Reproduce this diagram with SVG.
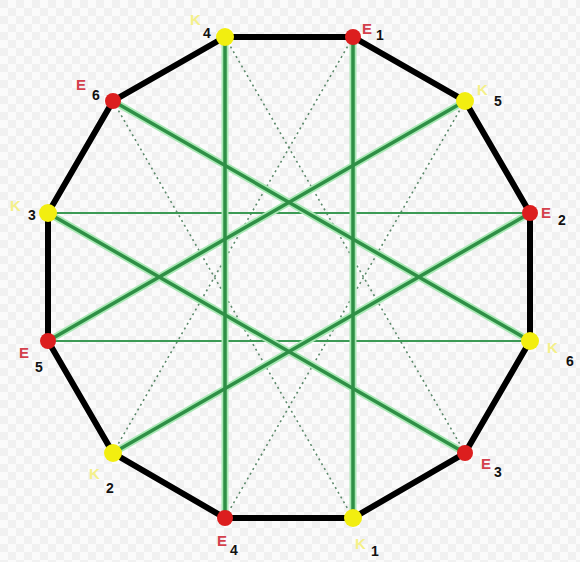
<svg xmlns="http://www.w3.org/2000/svg" width="580" height="562" viewBox="0 0 580 562">
<defs>
<pattern id="chk" width="16" height="16" patternUnits="userSpaceOnUse">
<rect width="16" height="16" fill="#fbfbfb"/>
<rect width="8" height="8" fill="#f1f1f1"/>
<rect x="8" y="8" width="8" height="8" fill="#f1f1f1"/>
</pattern>
<style>
.rim{fill:none;stroke:#000;stroke-width:6;stroke-linejoin:miter}
.halo{stroke:#a8e8b4;stroke-width:7;stroke-linecap:round}
.thick{stroke:#2f8f46;stroke-width:3.5;stroke-linecap:round}
.thin{stroke:#3c9a55;stroke-width:2}
.dot{stroke:#5d8a6c;stroke-width:1.6;stroke-dasharray:2 3.5}
.k{fill:#f2ee10}
.e{fill:#dc1e1e}
.kl{font-family:"Liberation Sans",Arial,sans-serif;font-size:15px;font-weight:bold;fill:#f4f08a}
.el{font-family:"Liberation Sans",Arial,sans-serif;font-size:15px;font-weight:bold;fill:#d4404c}
.n{font-family:"Liberation Sans",Arial,sans-serif;font-size:14px;font-weight:bold;fill:#111}
</style>
</defs>
<rect width="580" height="562" fill="url(#chk)"/>
<g id="connectors">
<polygon class="rim" points="225,37 353,37 465,101 530,213 530,341 465,453 353,518 225,518 113,453 48,341 48,213 113,101"/>
<g class="dot">
<line x1="225" y1="37" x2="465" y2="453"/>
<line x1="353" y1="37" x2="113" y2="453"/>
<line x1="465" y1="101" x2="225" y2="518"/>
<line x1="113" y1="101" x2="353" y2="518"/>
</g>
<g class="thin">
<line x1="48" y1="213" x2="530" y2="213"/>
<line x1="48" y1="341" x2="530" y2="341"/>
</g>
<g class="halo">
<line x1="225" y1="37" x2="225" y2="518"/>
<line x1="353" y1="37" x2="353" y2="518"/>
<line x1="113" y1="101" x2="530" y2="341"/>
<line x1="465" y1="101" x2="48" y2="341"/>
<line x1="48" y1="213" x2="465" y2="453"/>
<line x1="530" y1="213" x2="113" y2="453"/>
</g>
<g class="thick">
<line x1="225" y1="37" x2="225" y2="518"/>
<line x1="353" y1="37" x2="353" y2="518"/>
<line x1="113" y1="101" x2="530" y2="341"/>
<line x1="465" y1="101" x2="48" y2="341"/>
<line x1="48" y1="213" x2="465" y2="453"/>
<line x1="530" y1="213" x2="113" y2="453"/>
</g>
</g>
<g id="K4"><circle class="k" cx="225" cy="37" r="9"/><text class="kl" x="190" y="25">K</text><text class="n" x="203" y="38">4</text></g>
<g id="E1"><circle class="e" cx="353" cy="37" r="8"/><text class="el" x="362" y="34">E</text><text class="n" x="376" y="40">1</text></g>
<g id="K5"><circle class="k" cx="465" cy="101" r="9"/><text class="kl" x="477" y="95">K</text><text class="n" x="494" y="106">5</text></g>
<g id="E2"><circle class="e" cx="530" cy="213" r="8"/><text class="el" x="541" y="218">E</text><text class="n" x="558" y="225">2</text></g>
<g id="K6"><circle class="k" cx="530" cy="341" r="9"/><text class="kl" x="547" y="353">K</text><text class="n" x="566" y="366">6</text></g>
<g id="E3"><circle class="e" cx="465" cy="453" r="8"/><text class="el" x="481" y="469">E</text><text class="n" x="494" y="477">3</text></g>
<g id="K1"><circle class="k" cx="353" cy="518" r="9"/><text class="kl" x="355" y="549">K</text><text class="n" x="371" y="556">1</text></g>
<g id="E4"><circle class="e" cx="225" cy="518" r="8"/><text class="el" x="217" y="546">E</text><text class="n" x="230" y="555">4</text></g>
<g id="K2"><circle class="k" cx="113" cy="453" r="9"/><text class="kl" x="89" y="479">K</text><text class="n" x="106" y="493">2</text></g>
<g id="E5"><circle class="e" cx="48" cy="341" r="8"/><text class="el" x="19" y="358">E</text><text class="n" x="35" y="372">5</text></g>
<g id="K3"><circle class="k" cx="48" cy="213" r="9"/><text class="kl" x="10" y="211">K</text><text class="n" x="28" y="220">3</text></g>
<g id="E6"><circle class="e" cx="113" cy="101" r="8"/><text class="el" x="76" y="90">E</text><text class="n" x="92" y="100">6</text></g>
</svg>
